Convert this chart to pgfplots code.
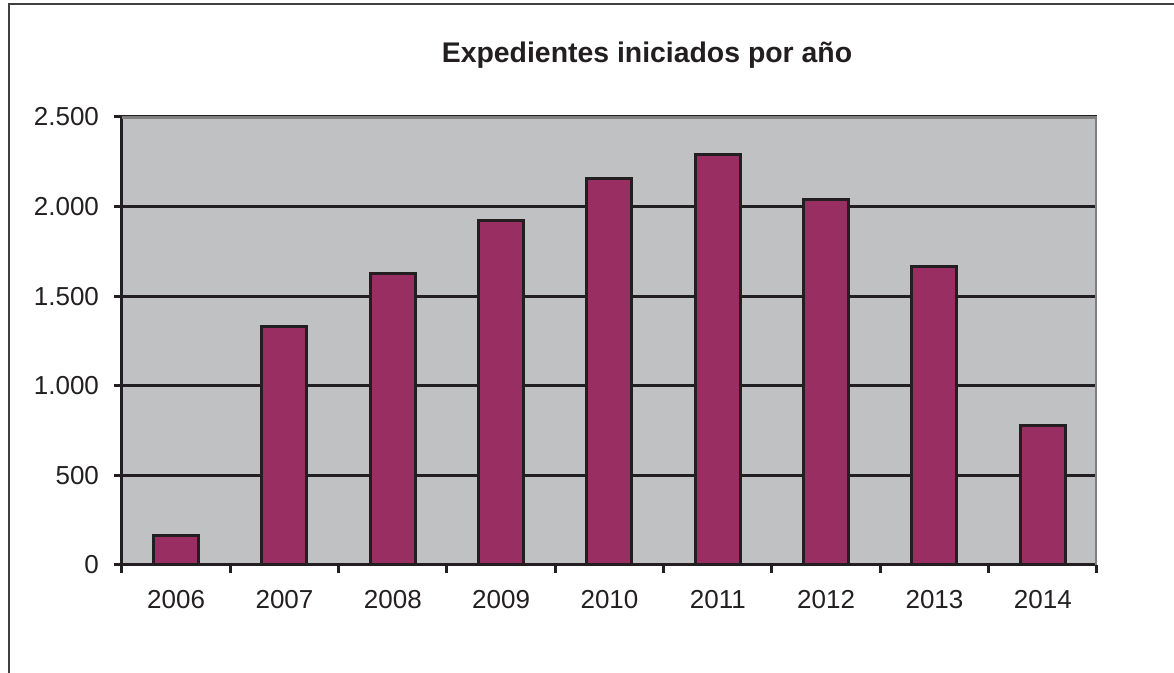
\documentclass[border=0pt]{standalone}
\usepackage{pgfplots}
\pgfplotsset{compat=1.18}
\usepackage{fontspec}
\setmainfont{Liberation Sans}
\definecolor{barc}{HTML}{982E62}
\definecolor{bgc}{HTML}{C0C1C3}
\definecolor{txt}{HTML}{231F20}
\begin{document}
\begin{tikzpicture}
\useasboundingbox (0pt,0pt) rectangle (587pt,336.5pt);
\draw[line width=1.2pt, black!75] (4.5pt,0pt) -- (4.5pt,334.5pt) -- (587pt,334.5pt);
\begin{axis}[
  at={(61pt,54pt)}, anchor=south west,
  scale only axis, width=487.5pt, height=224pt,
  xmin=-0.5, xmax=8.5, ymin=0, ymax=2500,
  axis background/.style={fill=bgc},
  axis x line*=bottom, axis y line*=left,
  axis line style={line width=1.5pt, txt},
  xtick={0,...,8},
  xticklabels={2006,2007,2008,2009,2010,2011,2012,2013,2014},
  minor xtick={-0.5,0.5,...,8.5},
  major x tick style={draw=none},
  minor x tick style={line width=1.5pt, txt},
  minor tick length=4pt,
  ytick={0,500,...,2500},
  y tick style={line width=1.5pt, txt},
  major tick length=4pt,
  tick align=outside,
  ymajorgrids, grid style={line width=1.5pt, txt},
  tick label style={font=\fontsize{13}{15}\selectfont, text=txt},
  yticklabel style={xshift=-4pt},
  xticklabel style={yshift=-5pt},
  /pgf/number format/.cd, 1000 sep={.}, assume math mode=true,
]
\draw[line width=2pt, black!50] (rel axis cs:0,1) -- (rel axis cs:1,1) -- (rel axis cs:1,0);
\addplot[ybar, bar width=22.5pt, fill=barc, draw=txt, line width=1.5pt] coordinates {
(0,167) (1,1330) (2,1629) (3,1920) (4,2154) (5,2288) (6,2037) (7,1663) (8,776)};
\end{axis}
\node[font=\bfseries\fontsize{14.2}{16}\selectfont, text=txt] at (323.5pt,309pt) {Expedientes iniciados por año};
\end{tikzpicture}
\end{document}
